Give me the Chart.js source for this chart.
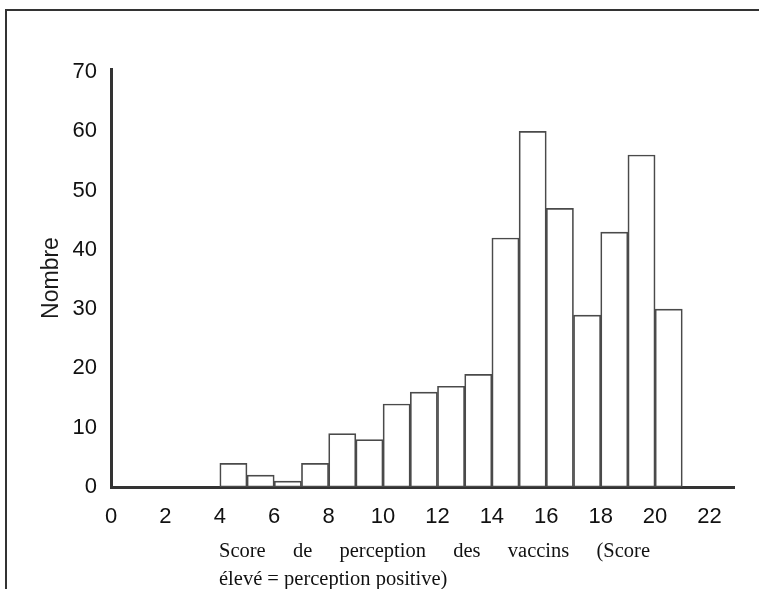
<!DOCTYPE html>
<html>
<head>
<meta charset="utf-8">
<script src="https://cdn.jsdelivr.net/npm/chart.js@4.4.1/dist/chart.umd.min.js"></script>
<style>
    html, body { margin:0; padding:0; background:#fff; }
    #wrap { position:relative; width:759px; height:589px; overflow:hidden; }
    #frame { position:absolute; left:5px; top:9px; width:800px; height:700px;
             border-top:2px solid #333; border-left:2px solid #333; }
    #chart { position:absolute; left:0; top:0; }
    #xtitle { position:absolute; left:219px; top:536px; width:431px;
              font-family:'Liberation Serif', 'Times New Roman', serif; font-size:20.5px;
              line-height:28px; color:#111; }
    #xtitle .l1 { text-align:justify; text-align-last:justify; }
</style>
</head>
<body>
<div id="wrap">
    <div id="frame"></div>
    <canvas id="chart" width="759" height="589"></canvas>
    <div id="xtitle">
        <div class="l1">Score de perception des vaccins (Score</div>
        <div>élevé = perception positive)</div>
    </div>
</div>
<script>
// histogram bins: start of each 1-point bin and its count
var binStarts = [0,1,2,3,4,5,6,7,8,9,10,11,12,13,14,15,16,17,18,19,20];
var counts    = [0,0,0,0,4,2,1,4,9,8,14,16,17,19,42,60,47,29,43,56,30];
var xTicks = [0,2,4,6,8,10,12,14,16,18,20,22];
var yTicks = [0,10,20,30,40,50,60,70];

var Histo = {
    init:()=>{
        Chart.defaults.font.family = "'Liberation Sans', Arial, sans-serif";
        Chart.defaults.color = '#111';
        Histo.genChart();
    },
    genChart:()=>{
        ctx = document.getElementById('chart');

        new Chart(ctx, {
            type: 'bar',
            data: {
                datasets: [{
                    label: 'Nombre',
                    data: binStarts.map((b, i) => ({x: b + 0.5, y: counts[i]})),
                    backgroundColor: '#ffffff',
                    borderColor: '#4a4a4a',
                    borderWidth: 1.7,
                    borderSkipped: false,
                    barPercentage: 1,
                    categoryPercentage: 1
                }]
            },
            options: {
                responsive: false,
                animation: false,
                devicePixelRatio: 1,
                layout: {
                    padding: {top: 69, right: 25, bottom: 0, left: 0}
                },
                scales: {
                    x: {
                        type: 'linear',
                        min: 0,
                        max: 22.9,
                        offset: false,
                        afterFit: (s) => { s.height = 102; },
                        afterBuildTicks: (s) => { s.ticks = xTicks.map(v => ({value: v})); },
                        ticks: {
                            autoSkip: false,
                            maxRotation: 0,
                            padding: 17,
                            font: {size: 22}
                        },
                        grid: {
                            display: false,
                            drawTicks: false,
                            offset: false
                        },
                        border: {
                            display: true,
                            color: '#333',
                            width: 3
                        }
                    },
                    y: {
                        min: 0,
                        max: 70.5,
                        afterFit: (s) => { s.width = 111; },
                        afterBuildTicks: (s) => { s.ticks = yTicks.map(v => ({value: v})); },
                        ticks: {
                            padding: 14,
                            font: {size: 22}
                        },
                        grid: {
                            display: false,
                            drawTicks: false
                        },
                        border: {
                            display: true,
                            color: '#333',
                            width: 3
                        },
                        title: {
                            display: true,
                            text: 'Nombre',
                            color: '#1a1a1a',
                            font: {size: 23},
                            padding: {top: 38, bottom: 0}
                        }
                    }
                },
                plugins: {
                    legend: {display: false},
                    tooltip: {enabled: false}
                }
            }
        });
    }
}

Histo.init();
</script>
</body>
</html>
